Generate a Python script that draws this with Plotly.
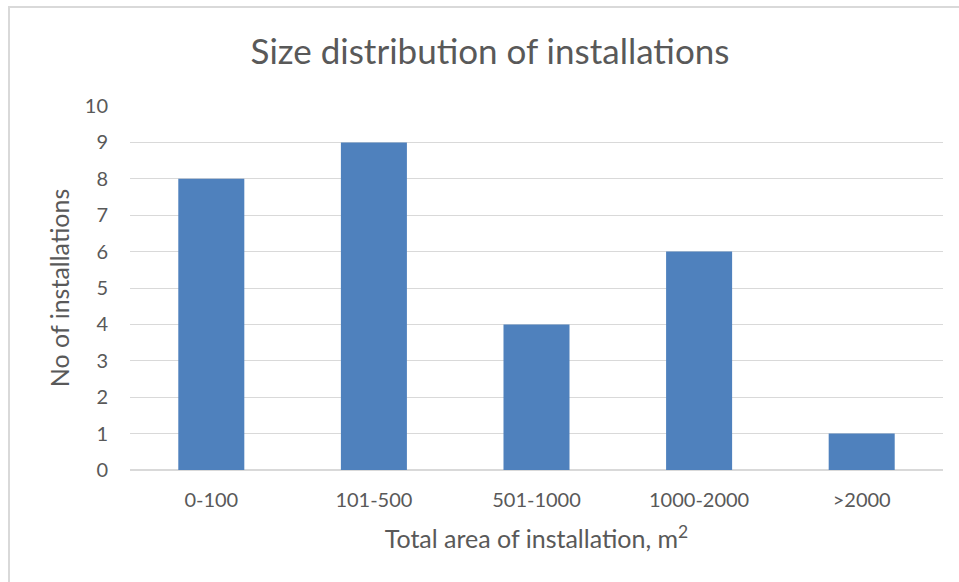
import plotly.graph_objects as go

categories = ["0-100", "101-500", "501-1000", "1000-2000", ">2000"]
counts = [8, 9, 4, 6, 1]
y_ticks = list(range(0, 11))

W, H = 959, 582
L, R, T, B = 130, 16, 106, 112

fig = go.Figure(
    go.Bar(
        x=categories,
        y=counts,
        marker=dict(color="#4f81bd", line=dict(width=0)),
        hoverinfo="x+y",
    )
)

text_color = "#595959"
font_family = "Lato, 'Open Sans', sans-serif"

fig.update_layout(
    width=W,
    height=H,
    margin=dict(l=L, r=R, t=T, b=B),
    paper_bgcolor="white",
    plot_bgcolor="white",
    bargap=0.594,
    showlegend=False,
    font=dict(family=font_family, color=text_color),
    title=dict(
        text="Size distribution of installations",
        x=490 / W,
        xanchor="center",
        y=1 - 52 / H,
        yanchor="middle",
        font=dict(size=35, color=text_color, family=font_family),
    ),
    xaxis=dict(
        showgrid=False,
        showline=True,
        linecolor="#d9d9d9",
        linewidth=1,
        ticks="",
        ticklabelstandoff=12,
        tickfont=dict(size=20, color=text_color),
        title=dict(
            text="Total area of installation, m<sup>2</sup>",
            font=dict(size=25, color=text_color),
            standoff=20,
        ),
    ),
    yaxis=dict(
        range=[0, 10],
        tickvals=y_ticks,
        showgrid=True,
        gridcolor="#d9d9d9",
        gridwidth=1,
        zeroline=True,
        zerolinecolor="#d9d9d9",
        showline=False,
        ticks="",
        ticklabelstandoff=21,
        tickfont=dict(size=20, color=text_color),
        title=dict(
            text="No of installations",
            font=dict(size=25, color=text_color),
            standoff=8,
        ),
    ),
    shapes=[
        dict(
            type="rect",
            xref="paper",
            yref="paper",
            x0=(9 - L) / (W - L - R),
            x1=(W + 5 - L) / (W - L - R),
            y0=-(B + 5) / (H - T - B),
            y1=1 + (T - 7) / (H - T - B),
            line=dict(color="#d9d9d9", width=2),
            fillcolor="rgba(0,0,0,0)",
            layer="below",
        )
    ],
)

fig.write_html("out.html")
